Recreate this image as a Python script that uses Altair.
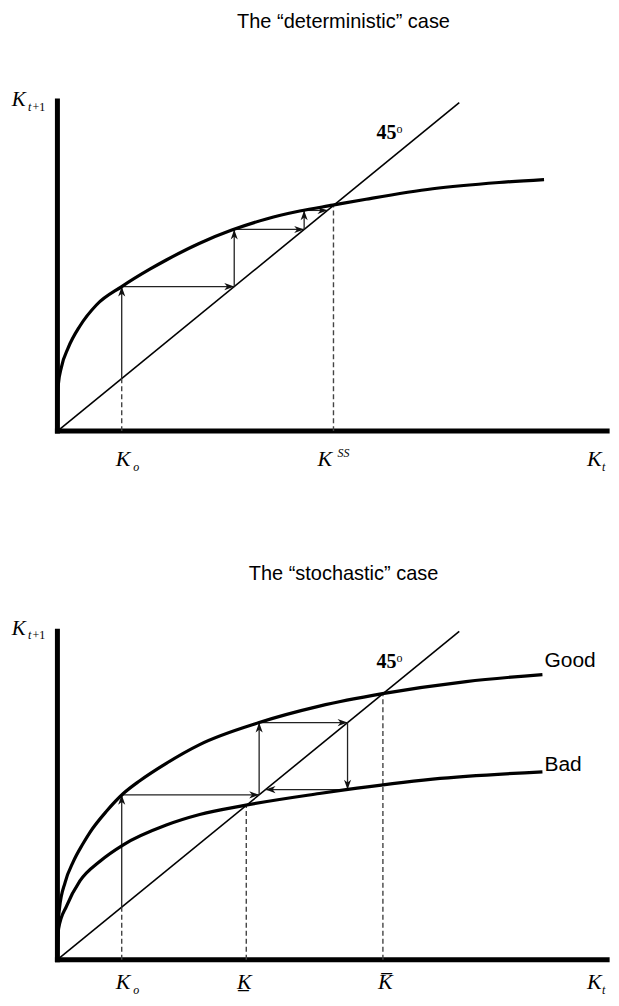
import altair as alt
import pandas as pd

# ---------------- data (model units, 45° line: K_{t+1} = K_t) ----------------
# deterministic case: accumulation curve
det_kt  = [0, 0.005, 0.02, 0.10, 0.27, 0.56, 0.97, 1.60, 2.30, 2.71, 3.54, 4.34, 5.20, 6.03, 6.85, 7.68, 9.34, 10.99, 12.11]
det_kt1 = [0, 0.80, 1.40, 1.95, 2.54, 3.20, 3.84, 4.40, 4.93, 5.21, 5.72, 6.12, 6.46, 6.70, 6.88, 7.06, 7.38, 7.57, 7.66]

# stochastic case: "Good" and "Bad" curves
good_kt  = [0, 0.01, 0.05, 0.19, 0.40, 0.62, 0.81, 1.22, 1.64, 2.05, 2.71, 3.54, 5.02, 6.52, 8.09, 10.17, 12.07]
good_kt1 = [0, 0.95, 1.55, 2.35, 3.00, 3.50, 3.88, 4.52, 5.06, 5.45, 5.98, 6.55, 7.22, 7.72, 8.10, 8.47, 8.68]
bad_kt   = [0, 0.005, 0.03, 0.23, 0.56, 1.06, 1.64, 2.71, 3.54, 4.66, 6.52, 7.14, 9.34, 12.07]
bad_kt1  = [0, 0.45, 0.95, 1.64, 2.40, 3.00, 3.50, 4.10, 4.42, 4.70, 5.06, 5.17, 5.50, 5.72]

# cobweb (arrow) paths: consecutive points are joined by arrows
det_path_kt  = [1.60, 1.60, 4.40, 4.40, 6.14, 6.14, 6.72]
det_path_kt1 = [1.60, 4.40, 4.40, 6.14, 6.14, 6.72, 6.72]
sto_path_kt  = [1.60, 1.60, 5.02, 5.02, 7.22, 7.22, 5.18]
sto_path_kt1 = [1.60, 5.02, 5.02, 7.22, 7.22, 5.18, 5.18]

# capital levels marked with dashed guides (up to the 45° line)
det_marks = [1.60, 6.87]
sto_marks = [1.60, 4.70, 8.10]

# 45° line end, axis extents
diag_end = [10.0, 10.0]
yaxis_top = [10.05, 10.0]
xaxis_end = 13.68

titles = ["The \u201cdeterministic\u201d case", "The \u201cstochastic\u201d case"]

# ---------------- scales (pixel anchors of the reference) ----------------
W = 603
UX, UY = 40.25, 32.9          # px per unit
X0 = 57.5                     # page x of origin
XMIN = (8 - X0) / UX
XDOM = [XMIN, XMIN + W / UX]
H1, H2 = 500, 490
YDOM1 = [(431 - 8) / UY - H1 / UY, (431 - 8) / UY]
YDOM2 = [(960.5 - 508) / UY - H2 / UY, (960.5 - 508) / UY]

ARROW = "M0,0 L0.75,2.1 L0,1.5 L-0.75,2.1 Z"


def X(f):
    return alt.X(f"{f}:Q", scale=alt.Scale(domain=XDOM, nice=False, zero=False), axis=None)


def Y(f, dom):
    return alt.Y(f"{f}:Q", scale=alt.Scale(domain=dom, nice=False, zero=False), axis=None)


STYLES = {
    "title": dict(font="Liberation Sans", fontSize=20, align="center"),
    "sans": dict(font="Liberation Sans", fontSize=21, align="left"),
    "Kbig": dict(font="Liberation Serif", fontSize=22, fontStyle="italic", align="left"),
    "Ktop": dict(font="Liberation Serif", fontSize=21, fontStyle="italic", align="left"),
    "subi": dict(font="Liberation Serif", fontSize=12, fontStyle="italic", align="left"),
    "subr": dict(font="Liberation Serif", fontSize=12, align="left"),
    "bold": dict(font="Liberation Serif", fontSize=20, fontWeight="bold", align="left"),
}


def panel(curves, path_kt, path_kt1, marks, ytop, labels, ydom, h):
    cdf = pd.DataFrame(
        [dict(kt=k, kt1=v, curve=name, i=i) for name, ks, vs in curves for i, (k, v) in enumerate(zip(ks, vs))]
    )
    curve_layer = alt.Chart(cdf).mark_line(color="black", strokeWidth=3.2, interpolate="monotone").encode(
        x=X("kt"), y=Y("kt1", ydom), detail="curve:N", order="i:Q"
    )
    diag = pd.DataFrame({"x0": [0], "y0": [0], "x1": [diag_end[0]], "y1": [diag_end[1]]})
    diag_layer = alt.Chart(diag).mark_rule(color="black", strokeWidth=1.6).encode(
        x=X("x0"), y=Y("y0", ydom), x2="x1:Q", y2="y1:Q"
    )
    axes = pd.DataFrame({"x0": [0, 0], "y0": [0, 0], "x1": [0, xaxis_end], "y1": [ytop, 0]})
    axes_layer = alt.Chart(axes).mark_rule(color="black", strokeWidth=5, strokeCap="square").encode(
        x=X("x0"), y=Y("y0", ydom), x2="x1:Q", y2="y1:Q"
    )
    ddf = pd.DataFrame({"x0": marks, "y0": [0] * len(marks), "y1": marks})
    dash_layer = alt.Chart(ddf).mark_rule(color="#444", strokeWidth=1.4, strokeDash=[5, 3]).encode(
        x=X("x0"), y=Y("y0", ydom), y2="y1:Q"
    )
    segs = []
    for a in range(len(path_kt) - 1):
        x0, y0, x1, y1 = path_kt[a], path_kt1[a], path_kt[a + 1], path_kt1[a + 1]
        if x1 > x0:
            ang = 90
        elif x1 < x0:
            ang = 270
        elif y1 > y0:
            ang = 0
        else:
            ang = 180
        segs.append(dict(x0=x0, y0=y0, x1=x1, y1=y1, ang=ang))
    sdf = pd.DataFrame(segs)
    seg_layer = alt.Chart(sdf).mark_rule(color="#222", strokeWidth=1.3).encode(
        x=X("x0"), y=Y("y0", ydom), x2="x1:Q", y2="y1:Q"
    )
    head_layer = alt.Chart(sdf).mark_point(
        shape=ARROW, filled=True, size=90, color="#111", opacity=1, strokeWidth=0
    ).encode(x=X("x1"), y=Y("y1", ydom), angle=alt.Angle("ang:Q", scale=None))

    layers = [axes_layer, diag_layer, dash_layer, seg_layer, head_layer, curve_layer]
    ldf = pd.DataFrame(labels, columns=["text", "x", "y", "style"])
    for st, g in ldf.groupby("style"):
        layers.append(
            alt.Chart(g).mark_text(baseline="alphabetic", color="black", clip=True, **STYLES[st]).encode(
                x=X("x"), y=Y("y", ydom), text="text:N"
            )
        )
    return alt.layer(*layers).properties(width=W, height=h)


def axis_labels(kb, ks):
    return [
        ("K", -1.138, 9.90, "Ktop"),
        ("t", -0.733, 9.75, "subi"),
        ("+1", -0.62, 9.75, "subr"),
        ("K", 1.453, kb, "Kbig"),
        ("o", 1.888, ks, "subi"),
        ("K", 13.18, kb, "Kbig"),
        ("t", 13.55, ks, "subi"),
        ("45", 7.94, 8.88, "bold"),
        ("o", 8.44, 9.07, "subr"),
    ]


labels1 = axis_labels(-1.064, -1.22) + [
    (titles[0], 7.12, 12.28, "title"),
    ("K", 6.47, -1.064, "Kbig"),
    ("SS", 6.97, -0.80, "subi"),
]
labels2 = axis_labels(-0.90, -1.05) + [
    (titles[1], 7.12, 11.57, "title"),
    ("Good", 12.12, 8.92, "sans"),
    ("Bad", 12.12, 5.76, "sans"),
    ("K\u0332", 4.47, -0.90, "Kbig"),
    ("K\u0305", 7.98, -0.90, "Kbig"),
]

p1 = panel([("f", det_kt, det_kt1)], det_path_kt, det_path_kt1, det_marks, yaxis_top[0], labels1, YDOM1, H1)
p2 = panel(
    [("Good", good_kt, good_kt1), ("Bad", bad_kt, bad_kt1)],
    sto_path_kt, sto_path_kt1, sto_marks, yaxis_top[1], labels2, YDOM2, H2,
)

chart = alt.vconcat(p1, p2, spacing=0).properties(padding=0).configure_view(stroke=None)
chart.save("out.html", embed_options={"renderer": "svg", "actions": False})
